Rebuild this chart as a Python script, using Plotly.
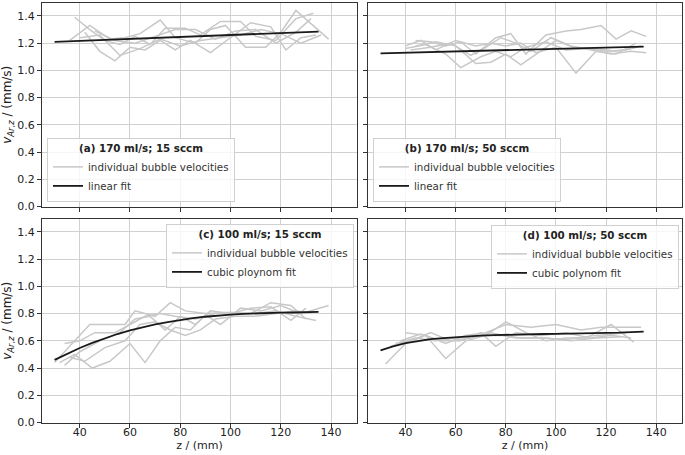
import plotly.graph_objects as go
from plotly.subplots import make_subplots

# individual bubble velocity tracks, (z in mm, v in mm/s)
a_z = [
    [38, 44, 50, 56, 62, 68, 74, 82, 88, 96, 104, 110, 118, 126, 133],
    [36, 44, 52, 58, 64, 72, 78, 86, 92, 98, 106, 114, 120, 126, 139],
    [42, 48, 54, 60, 66, 72, 78, 84, 92, 100, 108, 116, 122, 128, 134],
    [46, 54, 62, 70, 78, 86, 94, 102, 110, 118, 126, 132],
    [40, 48, 56, 64, 72, 80, 88, 96, 104, 112, 120, 128, 136],
]
a_v = [
    [1.39, 1.30, 1.22, 1.19, 1.25, 1.19, 1.31, 1.31, 1.26, 1.36, 1.36, 1.25, 1.22, 1.38, 1.42],
    [1.22, 1.33, 1.23, 1.24, 1.27, 1.37, 1.24, 1.20, 1.30, 1.33, 1.17, 1.17, 1.28, 1.44, 1.23],
    [1.28, 1.14, 1.07, 1.17, 1.15, 1.22, 1.15, 1.22, 1.13, 1.24, 1.35, 1.32, 1.15, 1.24, 1.26],
    [1.29, 1.22, 1.20, 1.25, 1.30, 1.30, 1.23, 1.29, 1.30, 1.20, 1.28, 1.38],
    [1.24, 1.26, 1.11, 1.16, 1.23, 1.18, 1.22, 1.24, 1.26, 1.30, 1.27, 1.20, 1.26],
]

b_z = [
    [44, 50, 56, 62, 68, 76, 82, 88, 96, 104, 110, 118, 124, 130, 136],
    [40, 46, 52, 60, 68, 74, 80, 86, 92, 100, 108, 116, 124, 132],
    [42, 50, 58, 66, 72, 78, 84, 90, 98, 106, 114, 122, 130, 136],
    [40, 48, 56, 62, 70, 76, 82, 88, 96, 104, 112, 120, 128, 134],
    [44, 52, 60, 68, 74, 80, 86, 92, 100, 108, 116, 124, 132],
]
b_v = [
    [1.22, 1.21, 1.18, 1.21, 1.12, 1.24, 1.27, 1.12, 1.26, 1.29, 1.30, 1.33, 1.23, 1.29, 1.25],
    [1.18, 1.22, 1.15, 1.22, 1.18, 1.20, 1.18, 1.20, 1.13, 1.17, 0.98, 1.14, 1.12, 1.20],
    [1.15, 1.17, 1.20, 1.11, 1.17, 1.24, 1.20, 1.14, 1.24, 1.18, 1.15, 1.12, 1.14, 1.13],
    [1.16, 1.19, 1.12, 1.02, 1.10, 1.14, 1.10, 1.17, 1.21, 1.15, 1.16, 1.14, 1.15, 1.18],
    [1.18, 1.21, 1.18, 1.05, 1.06, 1.12, 1.04, 1.12, 1.22, 1.16, 1.16, 1.14, 1.17],
]

c_z = [
    [34, 40, 46, 54, 60, 66, 72, 78, 86, 94, 102, 110, 118, 126, 134],
    [32, 38, 45, 52, 60, 66, 72, 78, 84, 90, 96, 104, 112, 120, 128, 139],
    [30, 36, 44, 52, 58, 62, 70, 76, 82, 90, 100, 108, 116, 124, 130],
    [36, 42, 50, 58, 64, 70, 76, 82, 88, 94, 102, 110, 118, 126, 132],
    [34, 40, 48, 56, 62, 68, 74, 80, 86, 92, 100, 108, 116, 124, 130],
]
c_v = [
    [0.58, 0.60, 0.66, 0.66, 0.72, 0.78, 0.80, 0.78, 0.76, 0.80, 0.80, 0.80, 0.82, 0.78, 0.75],
    [0.44, 0.50, 0.40, 0.45, 0.58, 0.44, 0.60, 0.70, 0.68, 0.79, 0.72, 0.84, 0.82, 0.86, 0.80, 0.86],
    [0.44, 0.56, 0.72, 0.72, 0.72, 0.82, 0.78, 0.88, 0.82, 0.80, 0.81, 0.80, 0.88, 0.86, 0.76],
    [0.48, 0.45, 0.55, 0.60, 0.72, 0.74, 0.68, 0.64, 0.68, 0.76, 0.78, 0.78, 0.80, 0.82, 0.80],
    [0.42, 0.52, 0.60, 0.66, 0.76, 0.78, 0.68, 0.78, 0.72, 0.82, 0.80, 0.84, 0.85, 0.75, 0.84],
]

d_z = [
    [32, 40, 48, 56, 64, 72, 80, 88, 96, 104, 112, 122, 131],
    [40, 48, 56, 64, 72, 80, 90, 100, 110, 118, 126, 134],
    [38, 46, 54, 62, 70, 76, 84, 94, 104, 114, 122, 130],
    [36, 44, 52, 60, 68, 78, 86, 96, 106, 116, 126],
    [34, 42, 50, 58, 66, 74, 84, 94, 104, 116, 128],
]
d_v = [
    [0.43, 0.58, 0.64, 0.47, 0.60, 0.64, 0.74, 0.66, 0.60, 0.62, 0.62, 0.72, 0.59],
    [0.66, 0.64, 0.58, 0.64, 0.66, 0.72, 0.70, 0.72, 0.68, 0.70, 0.70, 0.70],
    [0.60, 0.65, 0.60, 0.60, 0.66, 0.56, 0.66, 0.64, 0.66, 0.62, 0.64, 0.62],
    [0.58, 0.62, 0.60, 0.62, 0.64, 0.64, 0.62, 0.62, 0.60, 0.62, 0.63],
    [0.56, 0.60, 0.66, 0.60, 0.62, 0.66, 0.62, 0.62, 0.61, 0.64, 0.66],
]

# fitted curves
fit_ab_z = [30, 135]
fit_a_v = [1.21, 1.285]
fit_b_v = [1.125, 1.175]
fit_cd_z = [30, 35, 40, 45, 50, 55, 60, 65, 70, 75, 80, 85, 90, 95, 100,
            105, 110, 115, 120, 125, 130, 135]
fit_c_v = [0.46, 0.505, 0.547, 0.585, 0.62, 0.65, 0.677, 0.70, 0.72, 0.738, 0.753,
           0.766, 0.777, 0.786, 0.793, 0.798, 0.802, 0.805, 0.807, 0.808, 0.81, 0.812]
fit_d_v = [0.53, 0.56, 0.584, 0.60, 0.612, 0.62, 0.627, 0.633, 0.638, 0.642, 0.645,
           0.647, 0.649, 0.65, 0.651, 0.652, 0.653, 0.655, 0.657, 0.66, 0.664, 0.668]

panels = [
    ("(a) 170 ml/s; 15 sccm", a_z, a_v, fit_ab_z, fit_a_v, "linear fit", 1, 1),
    ("(b) 170 ml/s; 50 sccm", b_z, b_v, fit_ab_z, fit_b_v, "linear fit", 1, 2),
    ("(c) 100 ml/s; 15 sccm", c_z, c_v, fit_cd_z, fit_c_v, "cubic ploynom fit", 2, 1),
    ("(d) 100 ml/s; 50 sccm", d_z, d_v, fit_cd_z, fit_d_v, "cubic polynom fit", 2, 2),
]

W, H = 685, 455
GRAY = "#c8c8c8"
FONT = "DejaVu Sans"
FS = 10.3

fig = make_subplots(rows=2, cols=2)

legend_pos = [
    dict(x=47 / W, y=1 - 202 / H, xanchor="left", yanchor="bottom"),
    dict(x=373 / W, y=1 - 202 / H, xanchor="left", yanchor="bottom"),
    dict(x=166 / W, y=1 - 224 / H, xanchor="left", yanchor="top"),
    dict(x=491 / W, y=1 - 225 / H, xanchor="left", yanchor="top"),
]

for i, (title, zs, vs, fz, fv, fit_name, r, c) in enumerate(panels):
    leg = "legend" if i == 0 else f"legend{i + 1}"
    for k, (z, v) in enumerate(zip(zs, vs)):
        fig.add_trace(go.Scatter(
            x=z, y=v, mode="lines",
            line=dict(color=GRAY, width=1.5),
            name="individual bubble velocities",
            showlegend=(k == 0), legend=leg, hoverinfo="skip",
        ), row=r, col=c)
    fig.add_trace(go.Scatter(
        x=fz, y=fv, mode="lines",
        line=dict(color="#1a1a1a", width=1.8),
        name=fit_name, legend=leg,
    ), row=r, col=c)
    fig.update_layout({leg: dict(
        **legend_pos[i],
        title=dict(text=f"<b>{title}</b>", side="top center",
                   font=dict(size=FS, color="#222")),
        bgcolor="rgba(255,255,255,0.8)",
        bordercolor="#d0d0d0", borderwidth=1,
        font=dict(size=FS, color="#333", family=FONT),
        tracegroupgap=0, itemwidth=30,
    )})

# subplot placement in pixels -> paper
xdom = [[42 / W, 357 / W], [368 / W, 682 / W]]
ydom = [[1 - 206.5 / H, 1 - 3 / H], [1 - 422.5 / H, 1 - 219 / H]]

axis_style = dict(
    showline=True, mirror=True, linecolor="#333", linewidth=1,
    showgrid=True, gridcolor="#d0d0d0", gridwidth=1,
    ticks="outside", ticklen=4, tickcolor="#333",
    tickfont=dict(size=11, color="#222", family=FONT),
    zeroline=False, automargin=False,
)

for r in (1, 2):
    for c in (1, 2):
        fig.update_xaxes(
            domain=xdom[c - 1], range=[25, 150.3],
            tickvals=[40, 60, 80, 100, 120, 140],
            showticklabels=(r == 2),
            ticklabelstandoff=-5,
            title_text="z / (mm)" if r == 2 else None,
            title_font=dict(size=11, color="#222", family=FONT),
            title_standoff=0,
            row=r, col=c, **axis_style)
        fig.update_yaxes(
            domain=ydom[r - 1], range=[0, 1.495],
            tickvals=[0, 0.2, 0.4, 0.6, 0.8, 1.0, 1.2, 1.4],
            tickformat=".1f",
            showticklabels=(c == 1),
            title_text=("<i>v</i><sub><i>Ar</i>,<i>z</i></sub> / (mm/s)"
                        if c == 1 else None),
            title_font=dict(size=12, color="#222", family=FONT),
            title_standoff=8,
            row=r, col=c, **axis_style)

fig.update_layout(
    width=W, height=H,
    margin=dict(l=0, r=0, t=0, b=0),
    paper_bgcolor="white", plot_bgcolor="white",
    font=dict(family=FONT, size=11, color="#222"),
)

# page body has a default 8px margin; drop it so the figure sits at 0,0
fig.write_html("out.html", config={"displayModeBar": False},
               post_script="document.body.style.margin = '0';")
